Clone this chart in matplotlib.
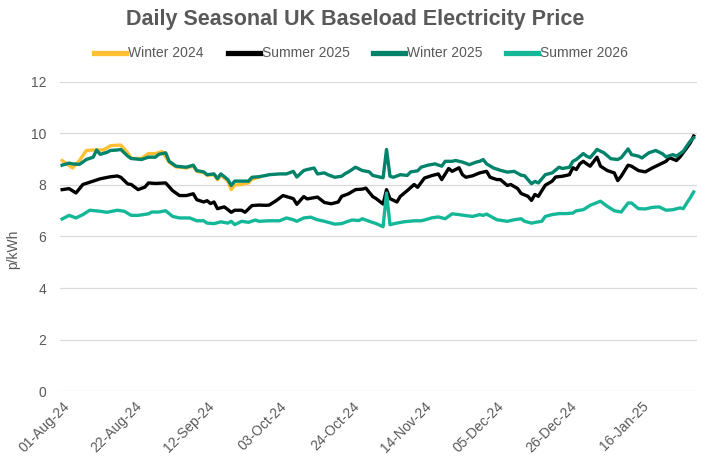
import matplotlib
matplotlib.use("Agg")
import matplotlib.pyplot as plt
import matplotlib.dates as mdates
import pandas as pd

plt.rcParams['font.family'] = ['Liberation Sans', 'DejaVu Sans']

START = pd.Timestamp('2024-08-01')

# day offsets from 01-Aug-24 and prices (p/kWh)
w24_days = [0, 3, 5, 7, 9, 11, 12, 14, 17, 19, 20, 23, 25, 27, 29, 31, 33, 36, 38, 39,
            41, 42, 44, 45, 46, 48, 49, 50, 52, 54, 55, 57]
w24_vals = [8.95, 8.66, 8.95, 9.34, 9.36, 9.36, 9.36, 9.53, 9.55, 9.25, 9.03, 9.03, 9.22, 9.22,
            9.30, 8.88, 8.70, 8.66, 8.74, 8.53, 8.48, 8.37, 8.40, 8.20, 8.38, 8.15, 7.82, 8.00,
            8.02, 8.08, 8.22, 8.30]

s25_days = [0, 2, 4, 6, 9, 11, 14, 16, 17, 19, 20, 22, 24, 25, 27, 30, 32, 34, 36, 38,
            39, 41, 42, 43, 44, 45, 47, 49, 50, 52, 53, 55, 57, 59, 60, 62, 64, 67, 68, 70,
            71, 74, 76, 78, 80, 81, 83, 85, 87, 88, 90, 91, 93, 94, 95, 97, 98, 100, 102, 103,
            105, 107, 109, 110, 112, 113, 115, 116, 117, 119, 121, 123, 124, 126, 127, 129, 130,
            132, 133, 135, 136, 137, 138, 139, 140, 142, 143, 145, 147, 148, 149, 150, 151, 152,
            153, 155, 156, 158, 160, 161, 162, 164, 165, 167, 169, 171, 173, 175, 176, 178, 179,
            181, 182, 183]
s25_vals = [7.82, 7.86, 7.69, 8.02, 8.15, 8.24, 8.32, 8.35, 8.30, 8.04, 8.02, 7.82, 7.92, 8.08,
            8.06, 8.08, 7.78, 7.59, 7.59, 7.66, 7.43, 7.34, 7.39, 7.28, 7.34, 7.08, 7.15, 6.94,
            7.02, 7.02, 6.94, 7.20, 7.22, 7.21, 7.22, 7.39, 7.59, 7.47, 7.25, 7.55, 7.46, 7.53,
            7.32, 7.27, 7.34, 7.56, 7.66, 7.82, 7.84, 7.88, 7.55, 7.47, 7.26, 7.82, 7.47, 7.34,
            7.56, 7.78, 8.02, 7.91, 8.27, 8.36, 8.43, 8.21, 8.64, 8.53, 8.67, 8.40, 8.30, 8.36,
            8.47, 8.53, 8.30, 8.21, 8.21, 7.98, 8.02, 7.86, 7.67, 7.56, 7.40, 7.63, 7.56, 7.78,
            7.99, 8.15, 8.31, 8.34, 8.40, 8.67, 8.60, 8.82, 8.92, 8.82, 8.73, 9.08, 8.73, 8.56,
            8.47, 8.17, 8.34, 8.77, 8.73, 8.56, 8.51, 8.66, 8.79, 8.92, 9.06, 8.95, 9.08, 9.44,
            9.63, 9.90]

w25_days = [0, 2, 3, 5, 7, 9, 10, 11, 13, 14, 16, 17, 19, 20, 23, 25, 27, 28, 30, 31,
            33, 36, 38, 39, 41, 42, 44, 45, 46, 48, 49, 50, 52, 54, 55, 57, 59, 60, 63, 65,
            67, 68, 70, 71, 73, 74, 76, 77, 79, 81, 82, 83, 85, 87, 89, 90, 91, 93, 94, 95,
            96, 98, 100, 101, 103, 104, 106, 108, 110, 111, 113, 114, 116, 118, 120, 121, 122,
            123, 125, 127, 129, 131, 133, 134, 136, 137, 138, 140, 142, 144, 145, 147, 148, 149,
            151, 152, 153, 155, 157, 159, 161, 162, 164, 165, 167, 168, 170, 172, 174, 175, 177,
            178, 180, 181, 182, 183]
w25_vals = [8.77, 8.85, 8.82, 8.80, 8.99, 9.08, 9.36, 9.19, 9.27, 9.34, 9.36, 9.38, 9.12, 9.03,
            8.99, 9.08, 9.08, 9.19, 9.25, 8.92, 8.73, 8.69, 8.77, 8.56, 8.51, 8.40, 8.43, 8.25,
            8.43, 8.21, 7.98, 8.15, 8.15, 8.15, 8.30, 8.32, 8.37, 8.40, 8.43, 8.43, 8.53, 8.31,
            8.56, 8.60, 8.66, 8.43, 8.47, 8.40, 8.30, 8.34, 8.44, 8.51, 8.69, 8.56, 8.51, 8.37,
            8.34, 8.28, 9.38, 8.34, 8.30, 8.40, 8.37, 8.51, 8.55, 8.69, 8.77, 8.82, 8.73, 8.92,
            8.92, 8.95, 8.89, 8.79, 8.89, 8.92, 8.99, 8.82, 8.66, 8.57, 8.50, 8.53, 8.38, 8.36,
            8.05, 8.14, 8.08, 8.40, 8.47, 8.69, 8.64, 8.69, 8.92, 8.99, 9.22, 9.12, 9.06, 9.38,
            9.25, 9.02, 8.99, 9.06, 9.40, 9.18, 9.12, 9.05, 9.25, 9.34, 9.21, 9.09, 9.18, 9.12,
            9.31, 9.51, 9.70, 9.83]

s26_days = [0, 2, 4, 6, 8, 11, 13, 16, 18, 20, 22, 25, 26, 28, 30, 32, 34, 37, 39, 41,
            42, 44, 46, 48, 49, 50, 52, 54, 56, 57, 60, 63, 65, 67, 68, 70, 72, 74, 76, 79,
            81, 82, 84, 86, 87, 89, 91, 93, 94, 95, 97, 99, 102, 104, 105, 107, 109, 111, 113,
            115, 117, 119, 121, 122, 123, 125, 126, 129, 131, 133, 134, 136, 138, 139, 140, 142,
            144, 146, 148, 149, 151, 153, 156, 158, 160, 162, 164, 165, 167, 169, 171, 173, 175,
            177, 179, 180, 181, 182, 183]
s26_vals = [6.68, 6.82, 6.72, 6.85, 7.02, 6.98, 6.94, 7.02, 6.98, 6.82, 6.82, 6.88, 6.95, 6.95,
            7.00, 6.78, 6.72, 6.72, 6.61, 6.61, 6.52, 6.50, 6.57, 6.52, 6.59, 6.46, 6.59, 6.55,
            6.64, 6.59, 6.61, 6.61, 6.72, 6.65, 6.59, 6.72, 6.75, 6.65, 6.59, 6.48, 6.50, 6.55,
            6.64, 6.62, 6.69, 6.59, 6.50, 6.38, 7.69, 6.46, 6.52, 6.57, 6.61, 6.61, 6.64, 6.72,
            6.76, 6.69, 6.88, 6.85, 6.81, 6.78, 6.85, 6.82, 6.87, 6.72, 6.65, 6.59, 6.65, 6.69,
            6.59, 6.52, 6.57, 6.59, 6.78, 6.85, 6.89, 6.89, 6.91, 7.00, 7.04, 7.21, 7.37, 7.17,
            7.00, 6.95, 7.30, 7.30, 7.08, 7.07, 7.13, 7.15, 7.02, 7.04, 7.11, 7.08, 7.30, 7.50,
            7.73]

series = [
    ('Winter 2024', w24_days, w24_vals, '#FFC034'),
    ('Summer 2025', s25_days, s25_vals, '#000000'),
    ('Winter 2025', w25_days, w25_vals, '#00836A'),
    ('Summer 2026', s26_days, s26_vals, '#14B898'),
]

tick_days = [0, 21, 42, 63, 84, 105, 126, 147, 168]

grey = '#595959'

fig = plt.figure(figsize=(7.07, 4.57), dpi=100)
ax = fig.add_axes([0.085, 0.1444, 0.901, 0.6762])

for name, days, vals, col in series:
    dates = START + pd.to_timedelta(days, unit='D')
    ax.plot(dates, vals, color=col, lw=2.4, label=name, solid_joinstyle='round')

ax.set_ylim(0, 12)
ax.set_yticks(range(0, 13, 2))
ax.set_xlim(START - pd.Timedelta(days=0.6), START + pd.Timedelta(days=184))
ax.set_xticks(START + pd.to_timedelta(tick_days, unit='D'))
ax.xaxis.set_major_formatter(mdates.DateFormatter('%d-%b-%y'))
for lab in ax.get_xticklabels():
    lab.set_rotation(45)
    lab.set_ha('right')
    lab.set_rotation_mode('anchor')

ax.grid(axis='y', color='#d9d9d9', lw=0.9)
ax.set_axisbelow(True)
for s in ax.spines.values():
    s.set_visible(False)
ax.tick_params(axis='both', length=0, colors=grey, labelsize=10)
ax.tick_params(axis='y', pad=10)
ax.tick_params(axis='x', pad=6)

ax.set_ylabel('p/kWh', color=grey, fontsize=10)
ax.yaxis.set_label_coords(-0.062, 0.46)

fig.suptitle('Daily Seasonal UK Baseload Electricity Price', x=0.503, y=0.98,
             fontsize=15.5, fontweight='bold', color=grey)

leg = fig.legend(loc='center', bbox_to_anchor=(0.511, 0.883), ncol=4, frameon=False,
                 fontsize=10, handlelength=2.3, handletextpad=0.15, columnspacing=1.7)
for t in leg.get_texts():
    t.set_color(grey)
for h in leg.get_lines():
    h.set_linewidth(3.8)

fig.savefig('out.png', dpi=100)
